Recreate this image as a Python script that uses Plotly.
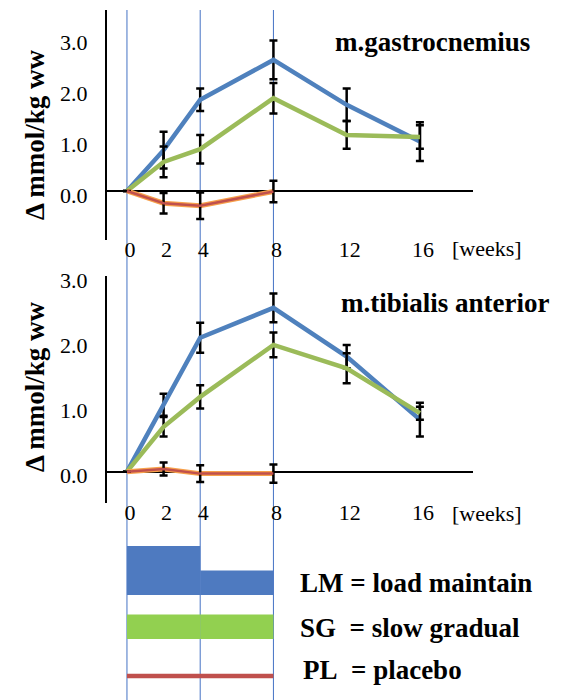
import plotly.graph_objects as go

# ---------------- data ----------------
weeks = [0, 2, 4, 8, 12, 16]
weeks_pl = [0, 2, 4, 8]

gas_LM = [0, 0.80, 1.79, 2.57, 1.69, 0.97]
gas_LM_err = [None, 0.36, 0.22, 0.38, 0.32, 0.38]
gas_SG = [0, 0.57, 0.82, 1.82, 1.10, 1.06]
gas_SG_err = [None, 0.30, 0.28, 0.30, 0.27, 0.23]
gas_PL = [0, -0.24, -0.29, -0.01]
gas_PL_err = [None, 0.20, 0.26, 0.21]

tib_LM = [0, 1.03, 2.06, 2.52, 1.77, 0.80]
tib_LM_err = [None, 0.17, 0.23, 0.22, 0.18, 0.26]
tib_SG = [0, 0.69, 1.15, 1.95, 1.59, 0.90]
tib_SG_err = [None, 0.15, 0.18, 0.19, 0.23, 0.10]
tib_PL = [0, 0.04, -0.03, -0.03]
tib_PL_err = [None, 0.10, 0.13, 0.14]

y_ticks = [0, 1, 2, 3]
y_ticktext = ["0.0", "1.0", "2.0", "3.0"]

# supplementation protocol (weeks) and relative dose
phase_edges = [0, 4, 8]
LM_dose = [2, 1]
SG_dose = [1, 1]

legend_labels = ["LM = load maintain", "SG\u00a0 = slow gradual", "PL\u00a0 = placebo"]

# ---------------- styles ----------------
BLUE = "#4F81BD"
GREEN = "#9BBB59"
RED = "#C0504D"
ORANGE = "#F7A04A"
FONT = "Liberation Serif, Times New Roman, Times, DejaVu Serif, serif"
W, H = 569, 700

fig = go.Figure()

def px_x(p):
    return p / W

def px_y(p):
    return (H - p) / H

def add_panel(xa, ya, LM, LMe, SG, SGe, PL, PLe):
    eb = dict(type="data", color="black", thickness=2.5, width=4, visible=True)
    fig.add_trace(go.Scatter(x=weeks, y=LM, mode="lines", line=dict(color=BLUE, width=4.5),
                             error_y=dict(array=LMe, **eb), xaxis=xa, yaxis=ya, showlegend=False))
    fig.add_trace(go.Scatter(x=weeks, y=SG, mode="lines", line=dict(color=GREEN, width=4.5),
                             error_y=dict(array=SGe, **eb), xaxis=xa, yaxis=ya, showlegend=False))
    fig.add_trace(go.Scatter(x=weeks_pl, y=PL, mode="lines", line=dict(color=ORANGE, width=5),
                             xaxis=xa, yaxis=ya, showlegend=False))
    fig.add_trace(go.Scatter(x=weeks_pl, y=PL, mode="lines", line=dict(color=RED, width=2.5),
                             error_y=dict(array=PLe, **eb), xaxis=xa, yaxis=ya, showlegend=False))

add_panel("x", "y", gas_LM, gas_LM_err, gas_SG, gas_SG_err, gas_PL, gas_PL_err)
add_panel("x2", "y2", tib_LM, tib_LM_err, tib_SG, tib_SG_err, tib_PL, tib_PL_err)

# protocol bars (bottom)
unit = 24.5
mids = [(phase_edges[i] + phase_edges[i + 1]) / 2 for i in range(len(phase_edges) - 1)]
widths = [phase_edges[i + 1] - phase_edges[i] for i in range(len(phase_edges) - 1)]
fig.add_trace(go.Bar(x=mids, y=[d * unit for d in LM_dose], width=widths, base=105,
                     marker=dict(color="#4E7AC0", line=dict(width=0)),
                     xaxis="x3", yaxis="y3", showlegend=False))
fig.add_trace(go.Bar(x=mids, y=[d * unit for d in SG_dose], width=widths, base=61,
                     marker=dict(color="#92D050", line=dict(width=0)),
                     xaxis="x3", yaxis="y3", showlegend=False))
fig.add_trace(go.Scatter(x=[phase_edges[0], phase_edges[-1]], y=[24, 24], mode="lines",
                         line=dict(color=RED, width=4.5), xaxis="x3", yaxis="y3", showlegend=False))

x_dom = [px_x(107), px_x(473)]
x_rng = [-1.09, 18.9]

xcommon = dict(domain=x_dom, range=x_rng, showline=False, showgrid=False, zeroline=False,
               automargin=False,
               ticks="", tickvals=weeks, ticktext=[str(w) for w in weeks], ticklabelshift=3,
               ticklabelstandoff=-6,
               tickfont=dict(family=FONT, size=22, color="black"))
ycommon = dict(showline=True, linecolor="black", linewidth=2, showgrid=False,
               zeroline=True, zerolinecolor="black", zerolinewidth=2, ticks="",
               automargin=False,
               tickvals=y_ticks, ticktext=y_ticktext, ticklabelstandoff=13, ticklabelshift=4,
               tickfont=dict(family=FONT, size=22, color="black"))

fig.update_layout(
    template="none",
    width=W, height=H, margin=dict(l=0, r=0, t=0, b=0, pad=0), autosize=False,
    paper_bgcolor="white", plot_bgcolor="rgba(0,0,0,0)",
    barmode="overlay", showlegend=False,
    font=dict(family=FONT),
    xaxis=dict(anchor="y", **xcommon),
    yaxis=dict(anchor="x", domain=[px_y(240), px_y(10)], range=[-0.961, 3.549], **ycommon),
    xaxis2=dict(anchor="y2", **xcommon),
    yaxis2=dict(anchor="x2", domain=[px_y(503), px_y(276)], range=[-0.482, 3.01], **ycommon),
    xaxis3=dict(anchor="y3", domain=x_dom, range=x_rng, visible=False, automargin=False),
    yaxis3=dict(anchor="x3", domain=[0, px_y(540)], range=[0, 160], visible=False, automargin=False),
)

# vertical protocol boundaries
for e in phase_edges:
    fig.add_shape(type="line", xref="x", yref="paper", x0=e, x1=e, y0=0, y1=px_y(10),
                  line=dict(color="#4472C4", width=1), layer="below")

bold = dict(family=FONT, size=27, color="black", weight="bold")
ann = []
ann.append(dict(text="m.gastrocnemius", x=px_x(433), y=px_y(42), xref="paper", yref="paper",
                showarrow=False, font=bold, xanchor="center", yanchor="middle"))
ann.append(dict(text="m.tibialis anterior", x=px_x(445), y=px_y(303), xref="paper", yref="paper",
                showarrow=False, font=bold, xanchor="center", yanchor="middle"))
for yc in [135, 387]:
    ann.append(dict(text="\u0394 mmol/kg ww", x=px_x(35), y=px_y(yc), xref="paper", yref="paper",
                    showarrow=False, font=bold, textangle=-90, xanchor="center", yanchor="middle"))
for yc in [248, 513]:
    ann.append(dict(text="[weeks]", x=px_x(450), y=px_y(yc), xref="paper", yref="paper",
                    showarrow=False, font=dict(family=FONT, size=22, color="black"),
                    xanchor="left", yanchor="middle"))
for lbl, xl, yc in zip(legend_labels, [298, 298, 301], [583, 628, 670]):
    ann.append(dict(text=lbl, x=px_x(xl), y=px_y(yc), xref="paper", yref="paper",
                    showarrow=False, font=bold, xanchor="left", yanchor="middle"))
fig.update_layout(annotations=ann)

fig.write_html("out.html", config={"displayModeBar": False},
               post_script="document.body.style.margin='0';document.body.style.padding='0';")
